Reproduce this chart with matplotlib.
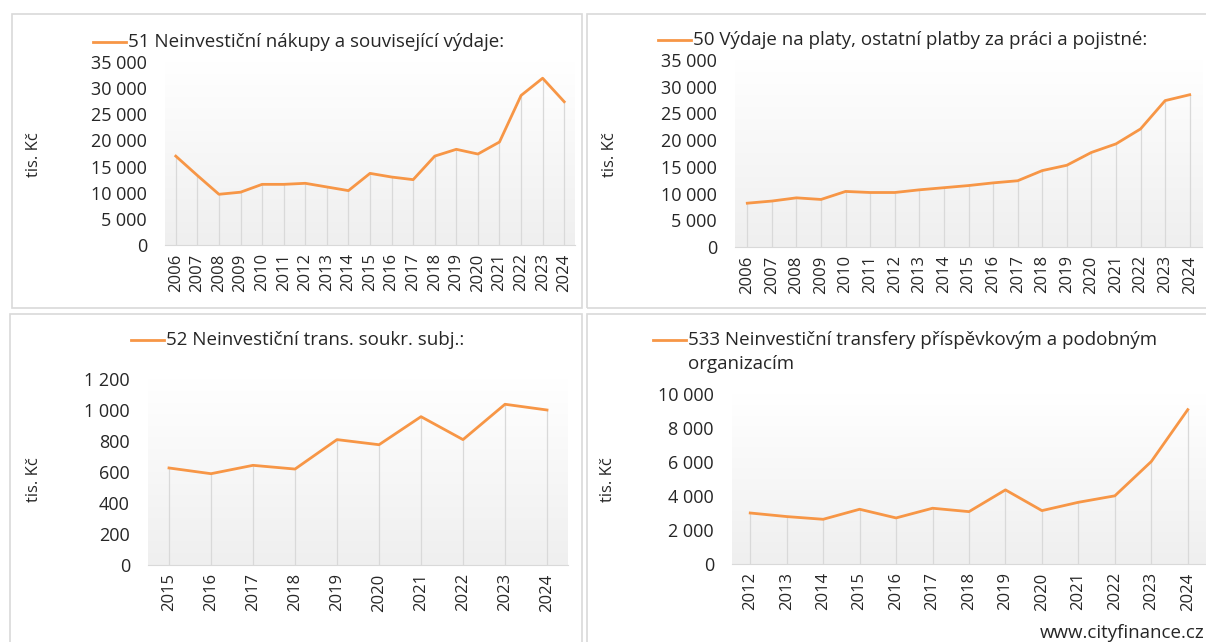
import matplotlib.pyplot as plt
import numpy as np
from matplotlib.lines import Line2D
from matplotlib.patches import Rectangle
from matplotlib.ticker import FuncFormatter

plt.rcParams['font.family'] = ['Open Sans', 'DejaVu Sans']

# data (tis. Kč)
years_51 = list(range(2006, 2025))
vals_51 = [17000, 13300, 9700, 10100, 11600, 11600, 11800, 11100, 10400, 13700,
           13000, 12500, 17000, 18300, 17400, 19700, 28600, 31900, 27400]

years_50 = list(range(2006, 2025))
vals_50 = [8200, 8600, 9200, 8900, 10400, 10200, 10200, 10700, 11100, 11500,
           12000, 12400, 14300, 15300, 17700, 19300, 22100, 27400, 28500]

years_52 = list(range(2015, 2025))
vals_52 = [626, 589, 643, 619, 809, 776, 957, 809, 1037, 1000]

years_533 = list(range(2012, 2025))
vals_533 = [3000, 2790, 2630, 3220, 2710, 3280, 3080, 4360, 3140, 3630, 4010, 6030, 9080]

W, H = 1206, 642
ORANGE = '#F79646'
TXT = '#262626'

fig = plt.figure(figsize=(W / 100, H / 100), dpi=100)


def box(l, t, r, b):
    return [l / W, 1 - b / H, (r - l) / W, (b - t) / H]


def fmt(v, pos):
    return f"{int(v):,}".replace(",", " ")


# panel frames
for l, t, r, b in [(12, 14, 582, 308), (587, 14, 1210, 308),
                   (10, 314, 582, 650), (587, 314, 1210, 650)]:
    fig.add_artist(Rectangle((l / W, 1 - b / H), (r - l) / W, (b - t) / H,
                             transform=fig.transFigure, fill=False,
                             edgecolor='#d9d9d9', lw=1.2))

grad = np.linspace(1, 0, 256).reshape(-1, 1)


def panel(rect, years, vals, ymax, ystep, legend_xy, title, ylab_xy):
    ax = fig.add_axes(box(*rect))
    x = np.arange(len(years))
    ax.imshow(grad, extent=[0, 1, 0, 1], transform=ax.transAxes, aspect='auto',
              cmap=plt.matplotlib.colors.LinearSegmentedColormap.from_list(
                  'g', ['#efefef', '#ffffff']), vmin=0, vmax=1, zorder=0)
    ax.vlines(x, 0, vals, color='#d9d9d9', lw=0.9, zorder=1)
    ax.plot(x, vals, color=ORANGE, lw=2.0, zorder=3)
    ax.set_xlim(-0.5, len(years) - 0.5)
    ax.set_ylim(0, ymax)
    ax.set_yticks(np.arange(0, ymax + 1, ystep))
    ax.yaxis.set_major_formatter(FuncFormatter(fmt))
    ax.set_xticks(x)
    ax.set_xticklabels([str(y) for y in years], rotation=90)
    ax.tick_params(axis='y', length=0, labelsize=13, labelcolor=TXT, pad=13)
    ax.tick_params(axis='x', length=0, labelsize=12, labelcolor=TXT, pad=6)
    for s in ['top', 'right', 'left']:
        ax.spines[s].set_visible(False)
    ax.spines['bottom'].set_color('#d9d9d9')
    ax.set_facecolor('none')
    # legend-like title
    lx, ly = legend_xy
    fig.add_artist(Line2D([lx / W, (lx + 33) / W], [1 - ly / H, 1 - ly / H],
                          color=ORANGE, lw=2.0, transform=fig.transFigure))
    fig.text((lx + 35) / W, 1 - ly / H, title, fontsize=13.5, color=TXT,
             va='center', ha='left')
    fig.text(ylab_xy[0] / W, 1 - ylab_xy[1] / H, 'tis. Kč', rotation=90,
             fontsize=12, color=TXT, ha='center', va='center')
    return ax


panel((165, 62, 575, 245), years_51, vals_51, 35000, 5000, (93, 42),
      '51 Neinvestiční nákupy a související výdaje:', (34, 155))
panel((735, 60, 1202, 247), years_50, vals_50, 35000, 5000, (658, 40),
      '50 Výdaje na platy, ostatní platby za práci a pojistné:', (610, 155))
panel((148, 379, 568, 565), years_52, vals_52, 1200, 200, (131, 340),
      '52 Neinvestiční trans. soukr. subj.:', (34, 480))
panel((732, 394, 1206, 564), years_533, vals_533, 10000, 2000, (653, 340),
      '533 Neinvestiční transfery příspěvkovým a podobným', (608, 480))
fig.text((653 + 35) / W, 1 - 364 / H, 'organizacím', fontsize=13.5, color=TXT,
         va='center', ha='left')

fig.text(1040 / W, 1 - 633 / H, 'www.cityfinance.cz', fontsize=13.5, color=TXT,
         ha='left', va='center')

plt.savefig('out.png', dpi=100)
